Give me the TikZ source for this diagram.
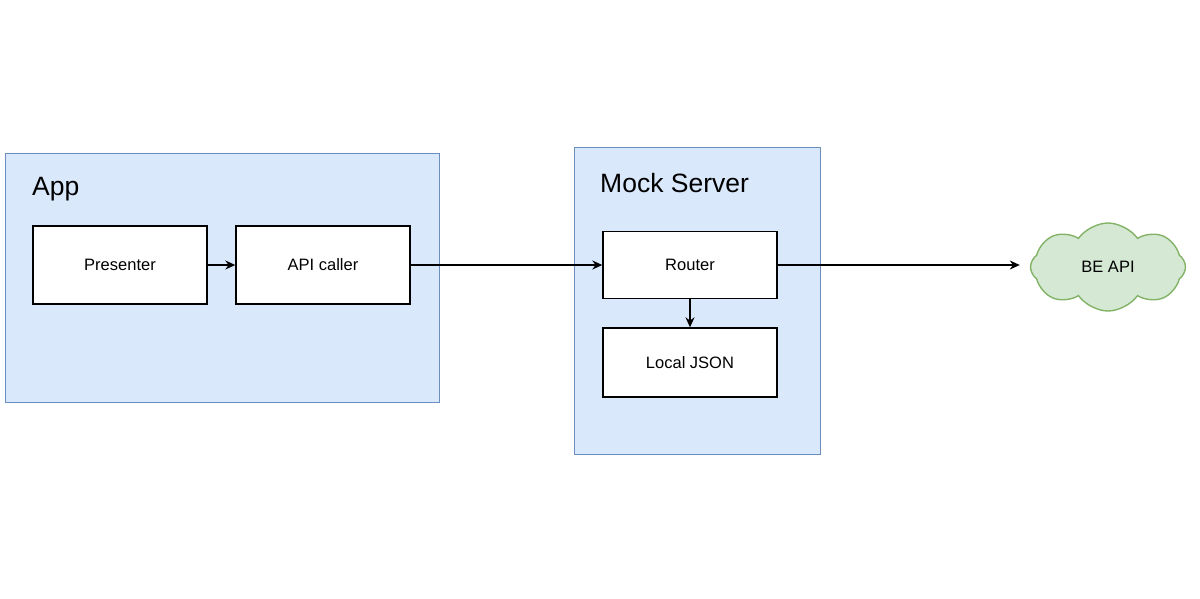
\documentclass[tikz,border=0pt]{standalone}
\usepackage{fontspec}
\setmainfont{Liberation Sans}
\usetikzlibrary{shapes.symbols, arrows.meta}

\definecolor{groupfill}{HTML}{DAE8FC}
\definecolor{groupline}{HTML}{6C8EBF}
\definecolor{cloudfill}{HTML}{D5E8D4}
\definecolor{cloudline}{HTML}{82B366}

\tikzset{
  group/.style={draw=groupline, fill=groupfill, line width=1pt, inner sep=0pt},
  grouptitle/.style={anchor=base west, inner sep=0pt, font=\fontsize{26.5}{30}\selectfont},
  block/.style={draw, fill=white, line width=1.4pt, inner sep=0pt,
    minimum width=174pt, font=\fontsize{16.5}{20}\selectfont},
  backend/.style={cloud, cloud puffs=8, cloud puff arc=110, aspect=1.75,
    draw=cloudline, fill=cloudfill, line width=1.4pt, inner sep=0pt,
    minimum width=155pt, minimum height=88pt, font=\fontsize{16.5}{20}\selectfont},
  flow/.style={line width=1.4pt, -{Stealth[length=10pt, width=9pt]}}
}

\begin{document}
\begin{tikzpicture}[x=1pt, y=-1pt]
        \useasboundingbox (0, 0) rectangle (1200, 598);

        \node[group, minimum width=434pt, minimum height=249pt] at (222, 277.5) (app) {};
        \node[grouptitle] at (32, 195) (apptitle) {App};
        \node[group, minimum width=246pt, minimum height=307pt] at (697, 300.5) (mock) {};
        \node[grouptitle] at (600, 192) (mocktitle) {Mock Server};

        \node[block, minimum height=78pt] at (120, 265)   (presenter) {Presenter};
        \node[block, minimum height=78pt] at (323, 265)   (caller)    {API caller};
        \node[block, minimum height=67pt] at (690, 265)   (router)    {Router};
        \node[block, minimum height=69pt] at (690, 362.5) (json)      {Local JSON};
        \node[backend] at (1108, 267) (beapi) {BE API};

        \draw[flow] (presenter) -- (caller);
        \draw[flow] (caller) -- (router);
        \draw[flow] (router.east) -- ([xshift=-10pt]beapi.west |- router.east);
        \draw[flow] (router) -- (json);
    \end{tikzpicture}
\end{document}
